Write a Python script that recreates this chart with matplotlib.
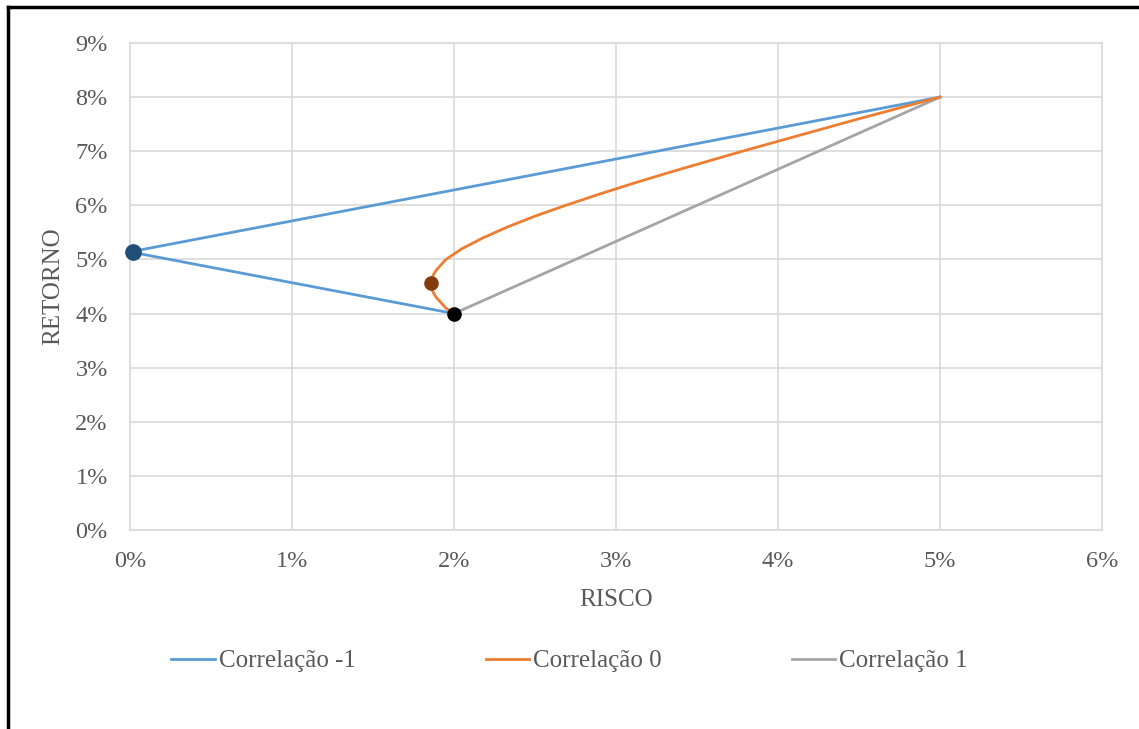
import matplotlib
matplotlib.use("Agg")
import matplotlib.pyplot as plt
from matplotlib.lines import Line2D
from matplotlib.ticker import FuncFormatter, MultipleLocator

# ---- data (percent) ----
neg_risk = [5.00, 0.00, 2.00]
neg_ret = [8.00, 5.14, 4.00]

zero_risk = [2.00, 1.95, 1.92, 1.89, 1.87, 1.86, 1.86, 1.87, 1.89, 1.92, 1.95,
             2.00, 2.05, 2.18, 2.33, 2.50, 2.69, 2.89, 3.10, 3.32, 3.55, 3.78,
             4.02, 4.26, 4.50, 4.75, 5.00]
zero_ret = [4.0, 4.1, 4.2, 4.3, 4.4, 4.5, 4.6, 4.7, 4.8, 4.9, 5.0,
            5.1, 5.2, 5.4, 5.6, 5.8, 6.0, 6.2, 6.4, 6.6, 6.8, 7.0,
            7.2, 7.4, 7.6, 7.8, 8.0]

pos_risk = [2.00, 5.00]
pos_ret = [4.00, 8.00]

series_names = ["Correlação -1", "Correlação 0", "Correlação 1"]

pt_zero_risk_x, pt_zero_risk_y = 0.02, 5.14     # zero-risk portfolio
pt_minvar_x, pt_minvar_y = 1.86, 4.57           # min-variance (corr 0)
pt_asset_x, pt_asset_y = 2.00, 4.00             # asset A

# ---- style ----
plt.rcParams['font.family'] = ['Liberation Serif', 'DejaVu Serif']
text_color = "#595959"
grid_color = "#D9D9D9"
c_blue, c_orange, c_gray = "#5B9BD5", "#ED7D31", "#A5A5A5"

fig = plt.figure(figsize=(11.39, 7.29), dpi=100)
ax = fig.add_axes([130/1139, 1 - 530/729, (1102-130)/1139, (530-43)/729])

ax.plot(neg_risk, neg_ret, color=c_blue, lw=2.0, label=series_names[0], zorder=3)
ax.plot(zero_risk, zero_ret, color=c_orange, lw=2.0, label=series_names[1], zorder=3)
ax.plot(pos_risk, pos_ret, color=c_gray, lw=2.0, label=series_names[2], zorder=2)

ax.plot([pt_zero_risk_x], [pt_zero_risk_y], 'o', color="#1F4E79", ms=11, zorder=5, clip_on=False)
ax.plot([pt_minvar_x], [pt_minvar_y], 'o', color="#843C0C", ms=9.5, zorder=5)
ax.plot([pt_asset_x], [pt_asset_y], 'o', color="black", ms=9.5, zorder=5)

ax.set_xlim(0, 6)
ax.set_ylim(0, 9)
ax.xaxis.set_major_locator(MultipleLocator(1))
ax.yaxis.set_major_locator(MultipleLocator(1))
fmt = FuncFormatter(lambda v, p: f"{v:.0f}%")
ax.xaxis.set_major_formatter(fmt)
ax.yaxis.set_major_formatter(fmt)
ax.grid(True, color=grid_color, lw=1.2, zorder=0)
ax.set_axisbelow(True)
for s in ax.spines.values():
    s.set_color(grid_color)
    s.set_linewidth(1.2)
ax.tick_params(length=0, labelsize=17.5, labelcolor=text_color)
ax.tick_params(axis='x', pad=15)
ax.tick_params(axis='y', pad=16)

ax.set_xlabel("RISCO", fontsize=18, color=text_color, labelpad=12)
ax.set_ylabel("RETORNO", fontsize=18, color=text_color, labelpad=8)

handles = [Line2D([], [], color=c, lw=2.0) for c in (c_blue, c_orange, c_gray)]
fig.legend(handles, series_names, loc="center", bbox_to_anchor=(0.5, 1 - 661/729),
           ncol=3, frameon=False, fontsize=18, labelcolor=text_color,
           handlelength=1.75, handletextpad=0.15, columnspacing=5.2)

# outer frame (top and left visible)
fig.add_artist(Line2D([8/1139, 8/1139], [0, 1 - 7/729], color="black", lw=2.5,
                      transform=fig.transFigure))
fig.add_artist(Line2D([8/1139, 1], [1 - 7/729, 1 - 7/729], color="black", lw=2.5,
                      transform=fig.transFigure))

fig.savefig("out.png", dpi=100)
